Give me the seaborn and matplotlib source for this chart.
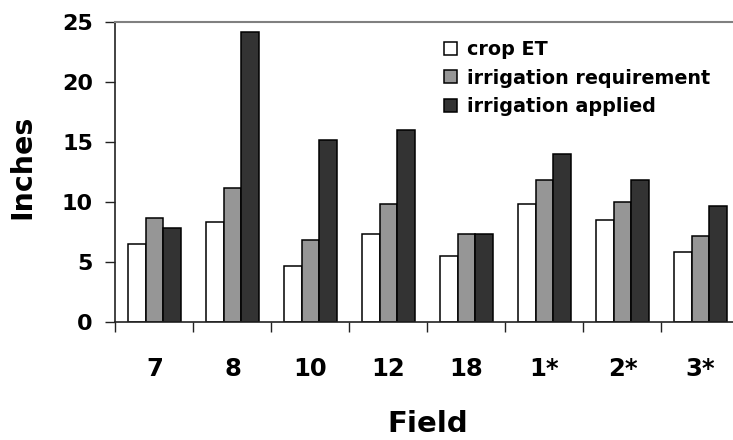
import numpy as np
import pandas as pd
import seaborn as sns
import matplotlib.pyplot as plt
from matplotlib.ticker import FixedLocator

# valeurs (pouces)
fields = ['7', '8', '10', '12', '18', '1*', '2*', '3*']
crop_et = [6.5, 8.35, 4.65, 7.3, 5.5, 9.85, 8.5, 5.85]
irr_requirement = [8.65, 11.15, 6.85, 9.85, 7.3, 11.85, 10.0, 7.15]
irr_applied = [7.8, 24.15, 15.2, 16.0, 7.3, 14.0, 11.85, 9.65]

series = ['crop ET', 'irrigation requirement', 'irrigation applied']
colors = ['#ffffff', '#969696', '#333333']

df = pd.DataFrame({'Field': fields * 3,
                   'Inches': crop_et + irr_requirement + irr_applied,
                   'Serie': [s for s in series for _ in fields]})

sns.set_style('white')
plt.rcParams['font.family'] = ['DejaVu Sans']
plt.rcParams['font.weight'] = 'bold'
plt.rcParams['text.color'] = 'black'
plt.rcParams['xtick.color'] = 'black'
plt.rcParams['ytick.color'] = 'black'
plt.rcParams['axes.labelcolor'] = 'black'

fig = plt.figure(figsize=(7.33, 4.4), dpi=100)
ax = fig.add_axes([115.5 / 733, 118 / 440, 624 / 733, 300 / 440])

sns.barplot(data=df, x='Field', y='Inches', hue='Serie', order=fields,
            hue_order=series, palette=colors, width=0.67, gap=0,
            edgecolor='black', linewidth=1.1, ax=ax, legend=True)

ax.set_xlim(-0.5, len(fields) - 0.5)
ax.set_ylim(0, 25)
ax.set_yticks([0, 5, 10, 15, 20, 25])

# graduations x entre les catégories (style tableur)
ax.xaxis.set_minor_locator(FixedLocator(np.arange(-0.5, len(fields), 1)))
ax.tick_params(axis='x', which='major', length=0, pad=25, labelsize=17.5)
ax.tick_params(axis='x', which='minor', length=7.2, width=1, color='#222222',
               direction='out', bottom=True)
ax.tick_params(axis='y', length=7.2, width=1, color='#222222', direction='out',
               left=True, labelsize=16, pad=9)
for lab in ax.get_xticklabels() + ax.get_yticklabels():
    lab.set_fontweight('bold')

ax.set_xlabel('Field', fontsize=21, fontweight='bold')
ax.set_ylabel('Inches', fontsize=20.5, fontweight='bold')
ax.xaxis.set_label_coords(0.5, (322 - 432) / 300)
ax.xaxis.label.set_va('baseline')
ax.yaxis.set_label_coords((22.5 - 115.5) / 624, 0.517)
ax.yaxis.label.set_va('center')

for side in ['left', 'bottom']:
    ax.spines[side].set_color('#222222')
    ax.spines[side].set_linewidth(1.2)
ax.spines['top'].set_color('#808080')
ax.spines['top'].set_linewidth(1.5)
ax.spines['right'].set_visible(False)

handles, labels = ax.get_legend_handles_labels()
ax.legend(handles, labels, loc='upper left', frameon=False,
          bbox_to_anchor=(444 / 733, 1 - 40 / 440), bbox_transform=fig.transFigure,
          borderaxespad=0, borderpad=0,
          handlelength=0.68, handleheight=0.68, handletextpad=0.52,
          labelspacing=0.5, prop={'weight': 'bold', 'size': 13.8})

fig.savefig('out.png', dpi=100)
